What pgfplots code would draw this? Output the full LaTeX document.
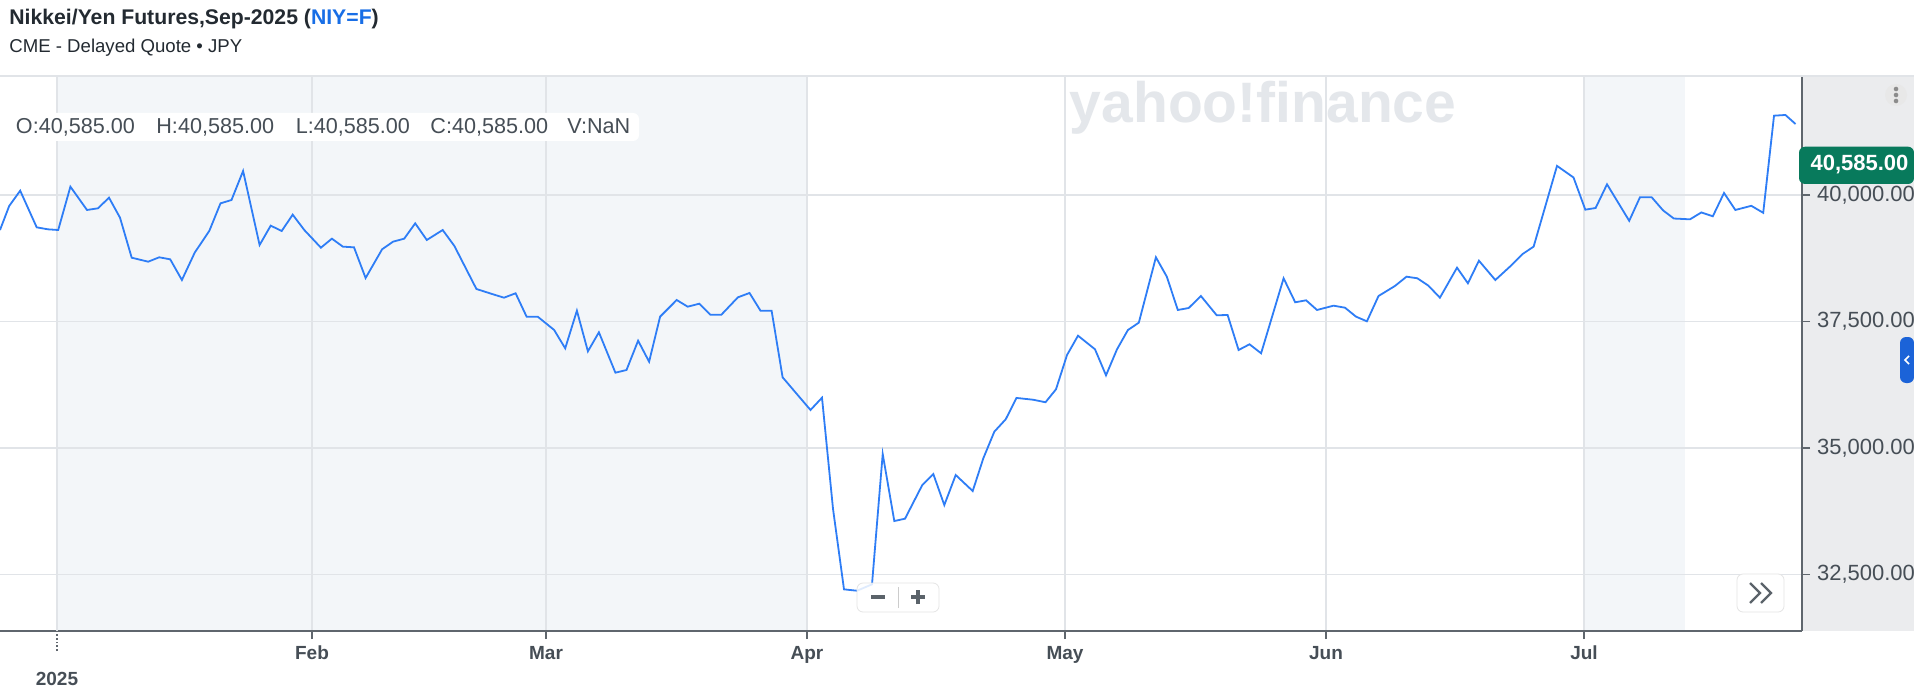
\documentclass[border=0pt]{standalone}
\usepackage{pgfplots}
\pgfplotsset{compat=1.18}
\usepackage{fontspec}
\setmainfont{Liberation Sans}

\definecolor{linecol}{RGB}{46,125,246}
\definecolor{bandcol}{RGB}{243,246,249}
\definecolor{gridcol}{RGB}{225,228,232}
\definecolor{axiscol}{RGB}{95,102,109}
\definecolor{txtcol}{RGB}{70,78,86}
\definecolor{titlecol}{RGB}{35,42,49}
\definecolor{panelcol}{RGB}{235,236,238}
\definecolor{quotegreen}{RGB}{8,122,92}
\definecolor{tabblue}{RGB}{27,99,216}
\definecolor{wmcol}{RGB}{228,231,235}
\definecolor{linkblue}{RGB}{24,110,230}
\definecolor{btncol}{RGB}{91,99,106}

% x = pixel position along the time axis, y = price (JPY)
\pgfplotstableread{
x y
0 39308
9.2 39783
20.2 40085
36.7 39361
47.8 39322
58.2 39308
70.4 40164
87 39704
98 39737
109 39947
120 39552
131.7 38761
148.2 38682
159.2 38769
170.2 38729
181.9 38320
194.7 38860
209.4 39295
220.5 39835
231.5 39901
243.1 40474
259.6 39012
270.7 39394
281.7 39289
292.7 39611
304.3 39308
320.9 38959
331.9 39137
342.9 38979
354 38966
365.6 38360
382.1 38927
393.1 39078
404.2 39137
415.2 39440
426.8 39111
442.7 39308
454.4 38992
476.4 38143
493 38038
504 37971
515.6 38058
526.6 37596
537.7 37596
554.2 37332
565.2 36970
576.9 37714
587.9 36911
598.9 37287
615.4 36489
626.5 36542
638.1 37121
649.1 36706
660.1 37596
676.7 37925
687.7 37793
699.3 37852
710.3 37635
721.4 37635
737.9 37978
749.5 38064
760.5 37714
771.6 37714
782.6 36398
799.1 36015
810.5 35752
822 35995
833 33800
844 32208
857 32181
872 32307
882.7 34882
894.3 33558
905 33604
922.3 34270
933.3 34487
944.3 33874
955.7 34467
972.7 34151
983.3 34797
994.3 35323
1005.7 35568
1016.5 35990
1033 35955
1045.5 35905
1056 36161
1067 36838
1078 37220
1095 36951
1106 36437
1117 36951
1127.9 37332
1138.8 37477
1155.9 38769
1166.8 38386
1177.8 37728
1188.7 37767
1200.9 38004
1216.7 37623
1227.6 37629
1238.6 36937
1249.5 37050
1261.1 36872
1283.6 38354
1295.2 37880
1306.1 37919
1317 37728
1333.5 37813
1345 37773
1356 37596
1366.9 37504
1378.5 38004
1394.9 38202
1406.5 38386
1417.4 38354
1428.4 38208
1439.9 37971
1457 38564
1467.9 38255
1478.9 38702
1495.3 38320
1511.7 38617
1522.6 38834
1533.6 38979
1557 40575
1573.5 40346
1585.3 39710
1595.6 39743
1607 40211
1629.2 39490
1640 39957
1651.6 39957
1663 39697
1673.8 39535
1690 39519
1701.3 39655
1712.8 39579
1724 40040
1735.3 39704
1751.3 39786
1763.2 39648
1774 41567
1785.4 41581
1795.5 41403
}\niyf

\begin{document}
\begin{tikzpicture}[x=0.5pt,y=0.5pt]
\fill[white] (0,0) rectangle (1914,692);
% price panel on the right
\fill[panelcol] (1802,61) rectangle (1914,616);
% shaded session bands and watermark, beneath the grid
\fill[bandcol] (57,61) rectangle (807,616);
\fill[bandcol] (1584,61) rectangle (1685,616);
\node[anchor=base, inner sep=0, text=wmcol,
      font=\fontsize{28.5}{30}\selectfont\bfseries] at (1263,569) {yahoo!finance};

\begin{axis}[
    at={(0pt,30.5pt)}, anchor=south west,
    width=901pt, height=277.5pt, scale only axis,
    xmin=0, xmax=1802, ymin=31385, ymax=42351,
    scaled y ticks=false,
    axis x line*=bottom, axis y line*=right,
    axis line style={axiscol, line width=1pt},
    xtick={312,546,807,1065,1326,1584},
    xticklabels={Feb,Mar,Apr,May,Jun,Jul},
    extra x ticks={57}, extra x tick labels={2025},
    extra x tick style={grid=major, major tick length=10pt,
        tick style={densely dotted, line width=1pt, axiscol},
        xticklabel style={yshift=-7pt}},
    ytick={32500,35000,37500,40000},
    grid=major, grid style={gridcol, line width=0.75pt},
    tick align=outside, major tick length=4pt,
    tick style={axiscol, line width=0.9pt},
    xticklabel style={font=\fontsize{9.5}{11}\selectfont\bfseries, text=txtcol},
    yticklabel style={font=\fontsize{11}{13}\selectfont, text=txtcol, anchor=west},
    /pgf/number format/.cd, fixed, fixed zerofill, precision=2,
        1000 sep={,}, assume math mode=true,
]
\addplot[linecol, line width=0.9pt] table[x=x, y=y] {\niyf};
\end{axis}

\draw[gridcol, line width=0.7pt] (0,616) -- (1914,616);

% title block
\node[anchor=base west, inner sep=0, text=titlecol,
      font=\fontsize{10.6}{12}\selectfont\bfseries] at (9,667)
      {Nikkei/Yen Futures,Sep-2025 (\textcolor{linkblue}{NIY=F})};
\node[anchor=base west, inner sep=0, text=titlecol,
      font=\fontsize{9.3}{11}\selectfont] at (9,639.3)
      {CME - Delayed Quote • JPY};

% OHLC legend box
\fill[white, rounded corners=3pt] (5,551) rectangle (639,579);
\begin{scope}[every node/.style={anchor=base west, inner sep=0, text=txtcol,
      font=\fontsize{10.8}{12}\selectfont}]
\node at (15.6,558) {O:40,585.00};
\node at (156,558) {H:40,585.00};
\node at (295.5,558) {L:40,585.00};
\node at (430,558) {C:40,585.00};
\node at (567,558) {V:NaN};
\end{scope}

% last price tag
\fill[quotegreen, rounded corners=3pt] (1799,508) rectangle (1914,545.3);
\node[text=white, inner sep=0, font=\fontsize{11}{13}\selectfont\bfseries] at (1859.5,527) {40,585.00};

% menu dots
\fill[black!9] (1896,597) circle (11);
\foreach \dy in {-6,0,6} \fill[black!45] (1896,597+\dy) circle (2.3);

% side tab
\fill[tabblue, rounded corners=3pt] (1900,309) rectangle (1914,355);
\draw[white, line width=0.8pt] (1909,336) -- (1905,332) -- (1909,328);

% zoom control
\fill[white, opacity=0.85, rounded corners=3pt] (857,80) rectangle (939,109);
\draw[black!10, rounded corners=3pt] (857,80) rectangle (939,109);
\draw[black!20, line width=0.5pt] (898,84) -- (898,105);
\draw[btncol, line width=1.6pt] (871,95) -- (885,95);
\draw[btncol, line width=1.6pt] (911,95) -- (925,95) (918,88) -- (918,102);

% scroll button
\fill[white, rounded corners=3pt] (1737,80) rectangle (1784,118);
\draw[black!10, rounded corners=3pt] (1737,80) rectangle (1784,118);
\draw[btncol, line width=1.2pt] (1750,109) -- (1760,99) -- (1750,89)
      (1761,109) -- (1771,99) -- (1761,89);

\pgfresetboundingbox
\useasboundingbox (0,0) rectangle (1914,692);
\end{tikzpicture}
\end{document}
